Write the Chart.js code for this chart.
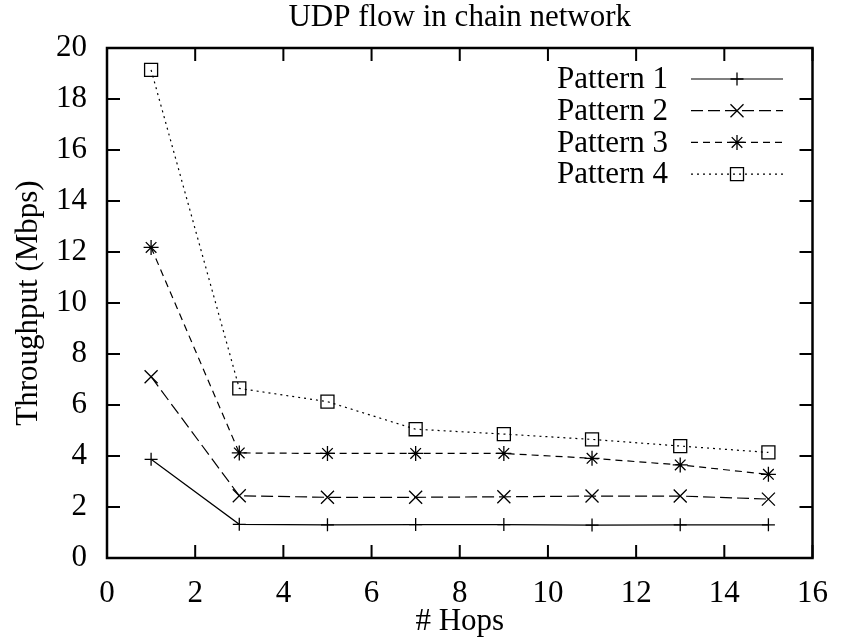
<!DOCTYPE html>
<html>
<head>
<meta charset="utf-8">
<title>UDP flow in chain network</title>
<script src="https://cdn.jsdelivr.net/npm/chart.js@4/dist/chart.umd.min.js"></script>
<style>
  html, body { margin: 0; padding: 0; background: #fff; }
  canvas { display: block; }
</style>
</head>
<body>
<canvas id="hopsChart" width="845" height="641"></canvas>
<script>
// throughput per hop count, one array per traffic pattern
let hops = [1, 3, 5, 7, 9, 11, 13, 15];
let pattern1 = [3.87, 1.32, 1.30, 1.31, 1.31, 1.29, 1.30, 1.30];
let pattern2 = [7.11, 2.44, 2.38, 2.38, 2.40, 2.43, 2.43, 2.31];
let pattern3 = [12.18, 4.12, 4.10, 4.10, 4.10, 3.91, 3.65, 3.28];
let pattern4 = [19.14, 6.65, 6.13, 5.05, 4.86, 4.65, 4.39, 4.14];
let seriesNames = ['Pattern 1', 'Pattern 2', 'Pattern 3', 'Pattern 4'];
let xTicks = [0, 2, 4, 6, 8, 10, 12, 14, 16];
let yTicks = [0, 2, 4, 6, 8, 10, 12, 14, 16, 18, 20];

const FONT = '"Liberation Serif", "Times New Roman", serif';

function points(values) {
      return values.map((v, i) => ({ x: hops[i], y: v }));
}

function lineSet(label, values, dash, style, radius) {
      return {
            label: label,
            data: points(values),
            borderColor: '#000',
            backgroundColor: 'rgba(0,0,0,0)',
            borderWidth: 1.2,
            borderDash: dash,
            pointStyle: style,
            pointRadius: radius,
            pointBorderColor: '#000',
            pointBackgroundColor: 'rgba(0,0,0,0)',
            pointBorderWidth: 1.3,
            tension: 0
      };
}

// gnuplot-like frame: box, inward ticks on all sides, title and key
const gnuFrame = {
      id: 'gnuFrame',
      afterDatasetsDraw(chart) {
            const ctx = chart.ctx;
            const a = chart.chartArea;
            const xs = chart.scales.x, ys = chart.scales.y;
            const len = 13;
            ctx.save();
            ctx.strokeStyle = '#000';
            ctx.lineWidth = 2;
            ctx.beginPath();
            xTicks.forEach(t => {
                  const px = xs.getPixelForValue(t);
                  ctx.moveTo(px, a.bottom); ctx.lineTo(px, a.bottom - len);
                  ctx.moveTo(px, a.top); ctx.lineTo(px, a.top + len);
            });
            yTicks.forEach(t => {
                  const py = ys.getPixelForValue(t);
                  ctx.moveTo(a.left, py); ctx.lineTo(a.left + len, py);
                  ctx.moveTo(a.right, py); ctx.lineTo(a.right - len, py);
            });
            ctx.stroke();
            ctx.lineWidth = 2.5;
            ctx.strokeRect(a.left, a.top, a.right - a.left, a.bottom - a.top);
            ctx.restore();
      },
      afterDraw(chart) {
            const ctx = chart.ctx;
            const a = chart.chartArea;
            ctx.save();
            ctx.fillStyle = '#000';
            ctx.font = '31px ' + FONT;
            ctx.textAlign = 'center';
            ctx.textBaseline = 'middle';
            ctx.fillText('UDP flow in chain network', (a.left + a.right) / 2, 18);

            // key in the top right corner
            const textRight = 668, lineLeft = 691, lineRight = 783;
            chart.data.datasets.forEach((ds, i) => {
                  const y = 79 + i * 31.7;
                  ctx.fillStyle = '#000';
                  ctx.textAlign = 'right';
                  ctx.fillText(ds.label, textRight, y + 1);
                  ctx.strokeStyle = '#000';
                  ctx.lineWidth = ds.borderWidth;
                  ctx.setLineDash(ds.borderDash);
                  ctx.beginPath();
                  ctx.moveTo(lineLeft, y);
                  ctx.lineTo(lineRight, y);
                  ctx.stroke();
                  ctx.setLineDash([]);
                  ctx.lineWidth = ds.pointBorderWidth;
                  ctx.fillStyle = 'rgba(0,0,0,0)';
                  Chart.helpers.drawPoint(ctx, {
                        pointStyle: ds.pointStyle,
                        radius: ds.pointRadius,
                        rotation: 0,
                        borderWidth: ds.pointBorderWidth
                  }, (lineLeft + lineRight) / 2, y);
            });
            ctx.restore();
      }
};

let ctx = document.getElementById('hopsChart').getContext('2d');
let hopsChart = new Chart(ctx, {
      type: 'line',
      data: {
            datasets: [
                  lineSet(seriesNames[0], pattern1, [], 'cross', 6.5),
                  lineSet(seriesNames[1], pattern2, [12, 5], 'crossRot', 9.2),
                  lineSet(seriesNames[2], pattern3, [7, 5], 'star', 7.5),
                  lineSet(seriesNames[3], pattern4, [2, 4], 'rect', 9.2)
            ]
      },
      options: {
            responsive: false,
            animation: false,
            layout: { padding: { left: 0, right: 23, top: 48, bottom: 0 } },
            plugins: {
                  legend: { display: false },
                  title: { display: false },
                  tooltip: { enabled: false }
            },
            scales: {
                  x: {
                        type: 'linear',
                        min: 0,
                        max: 16,
                        afterFit: s => { s.height = 83; },
                        afterBuildTicks: s => { s.ticks = xTicks.map(v => ({ value: v })); },
                        grid: { display: false, drawTicks: false },
                        border: { display: false },
                        ticks: { color: '#000', padding: 17, maxRotation: 0, font: { family: FONT, size: 31 } },
                        title: {
                              display: true,
                              text: '# Hops',
                              color: '#000',
                              padding: { top: 0, bottom: 1 },
                              font: { family: FONT, size: 31 }
                        }
                  },
                  y: {
                        min: 0,
                        max: 20,
                        afterFit: s => { s.width = 107; },
                        afterBuildTicks: s => { s.ticks = yTicks.map(v => ({ value: v })); },
                        grid: { display: false, drawTicks: false },
                        border: { display: false },
                        ticks: { color: '#000', padding: 20, font: { family: FONT, size: 31 } },
                        title: {
                              display: true,
                              text: 'Throughput (Mbps)',
                              color: '#000',
                              padding: { top: 10, bottom: 0 },
                              font: { family: FONT, size: 31 }
                        }
                  }
            }
      },
      plugins: [gnuFrame]
});
</script>
</body>
</html>
